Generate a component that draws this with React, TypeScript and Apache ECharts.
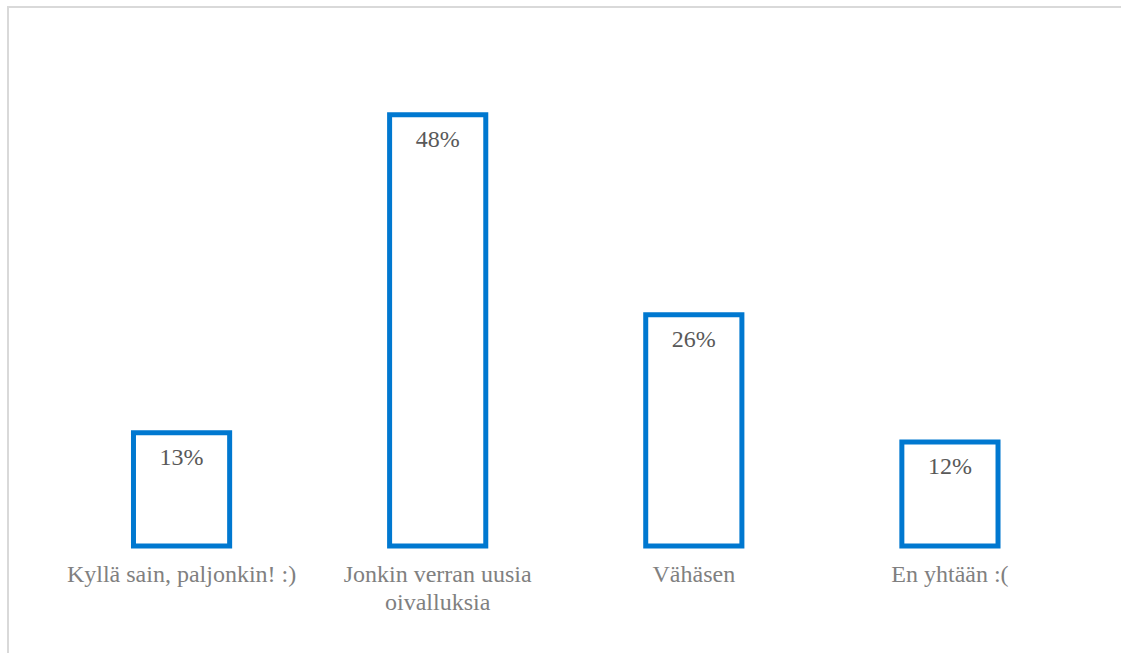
import React, { useEffect, useRef } from "react";
import * as echarts from "echarts";

const categories = [
  "Kyllä sain, paljonkin! :)",
  "Jonkin verran uusia\noivalluksia",
  "Vähäsen",
  "En yhtään :(",
];
const shares = [13, 48, 26, 12];

const BLUE = "#0078D0";
const FONT = "Liberation Serif, Times New Roman, serif";

export default function App() {
  const ref = useRef<HTMLDivElement>(null);

  useEffect(() => {
    if (!ref.current) return;
    const chart = echarts.init(ref.current, undefined, { renderer: "svg" });
    chart.setOption({
      animation: false,
      backgroundColor: "#ffffff",
      textStyle: { fontFamily: FONT },
      grid: { left: 53.5, right: 43, top: 94, bottom: 104.5 },
      xAxis: {
        type: "category",
        data: categories,
        axisLine: { show: false },
        axisTick: { show: false },
        axisLabel: {
          interval: 0,
          margin: 11,
          color: "#808080",
          fontFamily: FONT,
          fontSize: 24,
          lineHeight: 28,
        },
      },
      yAxis: {
        type: "value",
        min: 0,
        max: 50,
        show: false,
        splitLine: { show: false },
      },
      series: [
        {
          type: "bar",
          data: shares,
          barWidth: "39.5%",
          itemStyle: {
            color: "#ffffff",
            borderColor: BLUE,
            borderWidth: 5,
          },
          label: {
            show: true,
            position: "insideTop",
            distance: 15,
            formatter: (p: any) => `${p.value}%`,
            color: "#595959",
            fontFamily: FONT,
            fontSize: 24,
          },
        },
      ],
      graphic: [
        {
          type: "line",
          shape: { x1: 8, y1: 7, x2: 1121, y2: 7 },
          style: { stroke: "#d9d9d9", lineWidth: 2 },
        },
        {
          type: "line",
          shape: { x1: 8, y1: 6, x2: 8, y2: 653 },
          style: { stroke: "#d9d9d9", lineWidth: 2 },
        },
      ],
    });
    return () => chart.dispose();
  }, []);

  return (
    <div
      ref={ref}
      style={{ position: "fixed", left: 0, top: 0, width: 1121, height: 653 }}
    />
  );
}
